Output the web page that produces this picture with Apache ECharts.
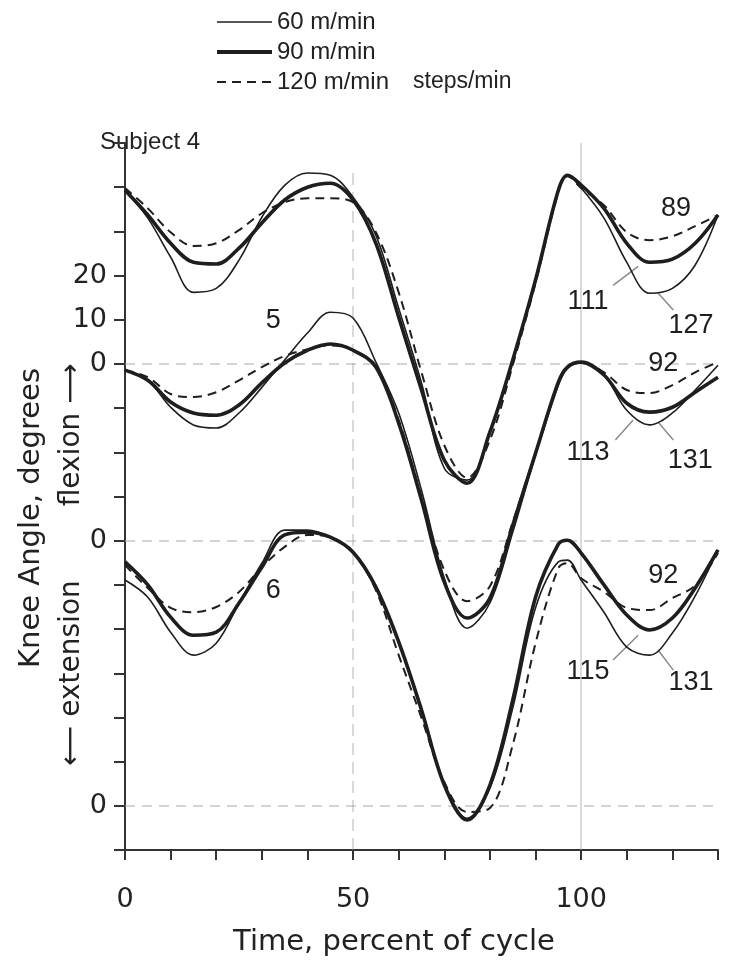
<!DOCTYPE html>
<html lang="en">
<head>
    <meta charset="UTF-8">
    <title>Knee angle</title>
    <script type="text/javascript" src="https://fastly.jsdelivr.net/npm/echarts@6/dist/echarts.min.js"></script>
    <style>
        html, body { margin: 0; padding: 0; background: #fff; }
    </style>
</head>
<body>
<div id="knee" style="width: 750px; height: 960px"></div>
<script type="text/javascript">
    // percent of gait cycle
    var cyclePct = [0, 5, 10, 15, 20, 25, 30, 35, 40, 45, 50, 55, 60, 65, 70, 75, 80, 85, 90, 95, 97, 100, 105, 110, 115, 120, 125, 130];

    // curves, read in stacked axis units (10 per tick)
    var s4_60  = [149.3, 143.0, 134.2, 126.2, 127.1, 133.5, 143.2, 150.4, 153.2, 152.7, 147.7, 139.1, 122.6, 105.7, 86.4, 83.7, 94.6, 110.9, 129.0, 149.3, 152.7, 149.8, 143.0, 133.0, 126.0, 127.1, 132.4, 143.7];
    var s4_90  = [149.3, 143.7, 137.3, 133.0, 132.6, 136.2, 141.9, 147.1, 150.0, 150.9, 147.1, 137.3, 120.6, 104.1, 88.2, 83.0, 94.6, 110.9, 129.0, 149.3, 152.7, 150.5, 145.2, 137.3, 133.0, 133.7, 137.3, 143.7];
    var s4_120 = [149.8, 145.2, 139.8, 136.7, 137.3, 140.3, 144.1, 146.6, 147.5, 147.5, 146.6, 139.8, 126.2, 108.1, 91.6, 84.2, 92.8, 109.7, 128.3, 148.9, 152.5, 149.8, 145.9, 139.8, 138.0, 138.9, 141.2, 143.7];

    var s5_60  = [108.6, 106.3, 100.2, 96.2, 95.5, 98.9, 104.7, 110.9, 117.0, 121.7, 120.4, 110.4, 98.9, 81.4, 61.5, 50.2, 55.9, 71.9, 89.4, 105.2, 109.0, 110.2, 107.5, 99.5, 96.2, 98.9, 104.1, 109.7];
    var s5_90  = [108.6, 106.3, 101.4, 98.9, 98.4, 100.7, 105.7, 110.2, 113.1, 114.5, 113.1, 109.3, 96.6, 79.2, 60.6, 52.5, 57.0, 73.5, 89.8, 105.9, 109.3, 110.4, 107.5, 101.1, 99.1, 100.2, 103.6, 107.0];
    var s5_120 = [108.6, 107.0, 103.2, 102.5, 103.6, 106.3, 109.3, 111.8, 113.3, 114.2, 113.1, 109.5, 97.3, 79.9, 63.3, 56.3, 59.7, 74.2, 90.0, 105.7, 109.3, 110.4, 108.1, 104.1, 103.4, 105.2, 108.1, 110.4];

    var s6_60  = [61.1, 57.2, 49.3, 44.1, 46.8, 55.9, 64.9, 72.4, 72.4, 70.8, 67.4, 59.5, 46.8, 32.1, 14.7, 7.2, 14.0, 32.1, 54.8, 65.2, 65.6, 61.1, 53.8, 45.9, 44.1, 49.1, 57.5, 67.9];
    var s6_90  = [65.2, 60.0, 52.7, 48.6, 49.3, 55.9, 64.0, 71.3, 71.9, 70.8, 67.4, 59.5, 47.1, 31.7, 14.7, 6.8, 14.7, 33.9, 57.2, 69.2, 70.1, 67.2, 60.0, 53.2, 49.8, 52.5, 59.3, 67.9];
    var s6_120 = [64.5, 59.3, 54.8, 53.8, 55.0, 58.4, 64.0, 68.6, 71.3, 70.8, 67.4, 58.8, 44.1, 29.9, 15.4, 8.6, 9.5, 23.8, 46.8, 63.8, 64.9, 61.5, 58.4, 54.8, 54.3, 57.0, 59.9, 67.2];

    var speeds = ['60 m/min', '90 m/min', '120 m/min'];

    // tick labels
    var yTickLabels = {130: '20', 120: '10', 110: '0', 70: '0', 10: '0'};
    var xTickLabels = {0: '0', 50: '50', 100: '100'};

    // steps/min notes, in data units
    var noteText = ['5', '6', '89', '111', '127', '92', '113', '131', '92', '115', '131'];
    var noteX = [32.5, 32.5, 120.8, 101.5, 124.1, 118.0, 101.5, 123.9, 118.0, 101.5, 124.1];
    var noteY = [119.9, 58.8, 145.2, 124.2, 118.8, 110.2, 90.0, 88.2, 62.0, 40.3, 37.8];

    var leaders = [
        [[107.0, 127.8], [112.5, 132.1]],
        [[116.9, 126.0], [120.2, 122.2]],
        [[107.5, 92.8], [111.4, 97.3]],
        [[116.9, 96.8], [120.2, 92.8]],
        [[107.0, 43.0], [112.5, 48.6]],
        [[116.9, 45.2], [120.2, 40.7]]
    ];

    var zeroLines = [110, 70, 10];

    var dom = document.getElementById('knee');
    var myChart = echarts.init(dom);

    function pairs(ys) {
        return cyclePct.map(function (x, i) { return [x, ys[i]]; });
    }

    var ink = '#1e1e1e';
    var styles = [
        {width: 1.6, type: 'solid'},
        {width: 3.6, type: 'solid'},
        {width: 2, type: [9, 6]}
    ];

    function curve(name, ys, k) {
        return {
            type: 'line',
            name: name,
            data: pairs(ys),
            smooth: 0.35,
            symbol: 'none',
            z: 5,
            lineStyle: {color: ink, width: styles[k].width, type: styles[k].type},
            itemStyle: {color: ink}
        };
    }

    var guideData = zeroLines.map(function (y) {
        return {coords: [[0, y], [130, y]], lineStyle: {color: '#aaaaaa', width: 2, type: [10, 7]}};
    });
    guideData.push({coords: [[50, 0], [50, 154.5]], lineStyle: {color: '#999999', width: 1.5, type: [12, 7]}});
    guideData.push({coords: [[100, 0], [100, 160]], lineStyle: {color: '#a0a0a0', width: 1.5, type: 'solid'}});

    var axisFont = 'DejaVu Sans';
    var textFont = 'Liberation Sans';

    option = {
        animation: false,
        legend: {
            data: speeds.map(function (n, k) {
                return {
                    name: n,
                    itemStyle: {opacity: 0},
                    lineStyle: {color: ink, width: k === 1 ? 4 : styles[k].width, type: styles[k].type}
                };
            }),
            orient: 'vertical',
            left: 215,
            top: 10,
            padding: 0,
            itemWidth: 55,
            itemHeight: 14,
            itemGap: 6,
            selectedMode: false,
            textStyle: {fontFamily: textFont, fontSize: 24, color: '#222'}
        },
        grid: {
            left: 125,
            right: 32,
            top: 143,
            bottom: 110
        },
        xAxis: {
            type: 'value',
            min: 0,
            max: 130,
            interval: 10,
            offset: 18,
            axisLine: {lineStyle: {color: '#333', width: 2}},
            axisTick: {length: 10, lineStyle: {color: '#333', width: 2}},
            splitLine: {show: false},
            axisLabel: {
                margin: 18,
                fontFamily: axisFont,
                fontSize: 27,
                color: '#222',
                formatter: function (v) { return xTickLabels[v] || ''; }
            }
        },
        yAxis: {
            type: 'value',
            min: 0,
            max: 160,
            interval: 10,
            axisLine: {show: true, lineStyle: {color: '#333', width: 2}},
            axisTick: {show: true, length: 11, lineStyle: {color: '#333', width: 2}},
            splitLine: {show: false},
            axisLabel: {
                margin: 18,
                fontFamily: axisFont,
                fontSize: 27,
                color: '#222',
                formatter: function (v) { return yTickLabels[v] || ''; }
            }
        },
        graphic: [
            {type: 'text', left: 100, top: 130, style: {text: 'Subject 4', font: '24px "Liberation Sans"', fill: '#222'}},
            {type: 'text', left: 413, top: 70, style: {text: 'steps/min', font: '23px "Liberation Sans"', fill: '#222'}},
            {type: 'text', x: 394, y: 942, style: {text: 'Time, percent of cycle', font: '29px "DejaVu Sans"', fill: '#222', textAlign: 'center', textVerticalAlign: 'middle'}},
            {type: 'text', x: 31, y: 518, rotation: Math.PI / 2, style: {text: 'Knee Angle, degrees', font: '29px "DejaVu Sans"', fill: '#222', textAlign: 'center', textVerticalAlign: 'middle'}},
            {type: 'text', x: 72, y: 435, rotation: Math.PI / 2, style: {text: 'flexion \u27F6', font: '28px "DejaVu Sans"', fill: '#222', textAlign: 'center', textVerticalAlign: 'middle'}},
            {type: 'text', x: 72, y: 673, rotation: Math.PI / 2, style: {text: '\u27F5 extension', font: '28px "DejaVu Sans"', fill: '#222', textAlign: 'center', textVerticalAlign: 'middle'}}
        ],
        series: [
            {
                type: 'lines',
                coordinateSystem: 'cartesian2d',
                silent: true,
                z: 1,
                data: guideData
            },
            curve(speeds[0], s4_60, 0),
            curve(speeds[1], s4_90, 1),
            curve(speeds[2], s4_120, 2),
            curve(speeds[0], s5_60, 0),
            curve(speeds[1], s5_90, 1),
            curve(speeds[2], s5_120, 2),
            curve(speeds[0], s6_60, 0),
            curve(speeds[1], s6_90, 1),
            curve(speeds[2], s6_120, 2),
            {
                type: 'lines',
                coordinateSystem: 'cartesian2d',
                silent: true,
                z: 3,
                lineStyle: {color: '#8a8a8a', width: 1.5, opacity: 1},
                data: leaders.map(function (c) { return {coords: c}; })
            },
            {
                type: 'scatter',
                silent: true,
                symbolSize: 0,
                clip: false,
                z: 6,
                itemStyle: {opacity: 1},
                data: noteText.map(function (t, i) { return [noteX[i], noteY[i], t]; }),
                label: {
                    show: true,
                    position: 'inside',
                    fontFamily: textFont,
                    fontSize: 27,
                    color: '#1e1e1e',
                    formatter: function (p) { return p.value[2]; }
                }
            }
        ]
    };

    myChart.setOption(option);
    window.onresize = function () { myChart.resize(); };
</script>
</body>
</html>
